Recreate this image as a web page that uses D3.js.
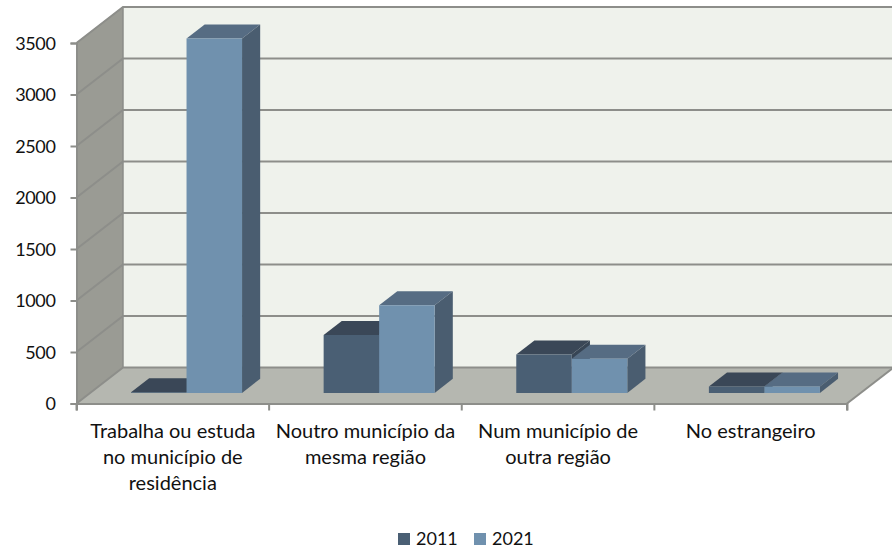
<!DOCTYPE html>
<html>
<head>
<meta charset="utf-8">
<script src="https://cdn.jsdelivr.net/npm/d3@7"></script>
<style>
  html, body { margin: 0; padding: 0; background: #fff; }
  text { font-family: Lato, "Open Sans", sans-serif; fill: #111; }
</style>
</head>
<body>
<div class="canvas"></div>
<script>
const categories = ["cat1", "cat2", "cat3", "cat4"];
const categoryLines = [
  ["Trabalha ou estuda", "no município de", "residência"],
  ["Noutro município da", "mesma região"],
  ["Num município de", "outra região"],
  ["No estrangeiro"]
];
const series = ["2011", "2021"];
const values2011 = [5, 562, 372, 62];
const values2021 = [3440, 850, 332, 62];
const yTicks = [0, 500, 1000, 1500, 2000, 2500, 3000, 3500];

const svgWidth = 892;
const svgHeight = 549;
const plot = { l: 76.5, r: 847, t: 43, b: 403.5 };
const depth = { x: 46.5, y: 36 };
const barDepth = { start: 0.295, end: 0.685 };

const svg = d3
  .select(".canvas")
  .append("svg")
  .attr("width", svgWidth)
  .attr("height", svgHeight)
  .style("display", "block");

const x = d3.scaleBand().domain(categories).range([plot.l, plot.r]);
const xInner = d3
  .scaleBand()
  .domain(series)
  .range([0, x.bandwidth()])
  .paddingInner(0)
  .paddingOuter(0.735);
const y = d3.scaleLinear().domain([0, 3500]).range([plot.b, plot.t]);

// front plane point pushed back by d (0 = front, 1 = back wall)
const pt = (px, py, d) => [px + depth.x * d, py - depth.y * d];
const poly = pts => d3.line()(pts);

const gridColor = "#8d8e8a";

// left wall
svg.append("path")
  .attr("d", poly([pt(plot.l, y(0), 0), pt(plot.l, y(3500), 0), pt(plot.l, y(3500), 1), pt(plot.l, y(0), 1)]) + "Z")
  .attr("fill", "#9a9b94")
  .attr("stroke", gridColor)
  .attr("stroke-width", 1);

// back wall
svg.append("path")
  .attr("d", poly([pt(plot.l, y(0), 1), pt(plot.l, y(3500), 1), pt(plot.r, y(3500), 1), pt(plot.r, y(0), 1)]) + "Z")
  .attr("fill", "#eff2ec");

// floor
svg.append("path")
  .attr("d", poly([pt(plot.l, y(0), 0), pt(plot.r, y(0), 0), pt(plot.r, y(0), 1), pt(plot.l, y(0), 1)]) + "Z")
  .attr("fill", "#b5b7b0");

// gridlines, wall part and back part
const grid = svg.append("g").attr("fill", "none").attr("stroke", gridColor).attr("stroke-width", 2);
yTicks.forEach(t => {
  grid.append("path").attr("d", poly([pt(plot.l, y(t), 0), pt(plot.l, y(t), 1), pt(plot.r, y(t), 1)]));
});
grid.append("path").attr("d", poly([pt(plot.l, y(3500), 1), pt(plot.l, y(0), 1)])).attr("stroke-width", 1.5);
grid.append("path").attr("d", poly([pt(plot.r, y(0), 0), pt(plot.r, y(0), 1)]));

const colors = {
  2011: { front: "#4a5f74", top: "#3a4757", side: "#374555" },
  2021: { front: "#7091ae", top: "#566c83", side: "#4a5d70" }
};

const rows = categories.flatMap((c, i) => [
  { cat: c, key: "2011", value: values2011[i] },
  { cat: c, key: "2021", value: values2021[i] }
]);

const bars = svg.selectAll(".bar").data(rows).enter().append("g").attr("class", "bar");

const x0 = d => x(d.cat) + xInner(d.key);
const x1 = d => x0(d) + xInner.bandwidth();

bars.append("path")
  .attr("d", d => poly([
    pt(x0(d), y(d.value), barDepth.start),
    pt(x1(d), y(d.value), barDepth.start),
    pt(x1(d), y(d.value), barDepth.end),
    pt(x0(d), y(d.value), barDepth.end)
  ]) + "Z")
  .attr("fill", d => colors[d.key].top);

bars.append("path")
  .attr("d", d => poly([
    pt(x1(d), y(0), barDepth.start),
    pt(x1(d), y(d.value), barDepth.start),
    pt(x1(d), y(d.value), barDepth.end),
    pt(x1(d), y(0), barDepth.end)
  ]) + "Z")
  .attr("fill", d => colors[d.key].side);

bars.append("path")
  .attr("d", d => poly([
    pt(x0(d), y(0), barDepth.start),
    pt(x1(d), y(0), barDepth.start),
    pt(x1(d), y(d.value), barDepth.start),
    pt(x0(d), y(d.value), barDepth.start)
  ]) + "Z")
  .attr("fill", d => colors[d.key].front);

// axes
const yAxis = d3.axisLeft(y).tickValues(yTicks).tickSize(6).tickPadding(15).tickFormat(d3.format("d"));
const yAxisGroup = svg.append("g").attr("transform", `translate(${plot.l}, 0)`).call(yAxis);
yAxisGroup.selectAll("text").style("font-size", "18px").style("letter-spacing", "-0.35px").attr("dy", "0.34em");
yAxisGroup.selectAll("line, path").attr("stroke", gridColor).attr("stroke-width", 2);

const xAxis = d3.axisBottom(x).tickSize(7).tickFormat("");
const xAxisGroup = svg.append("g").attr("transform", `translate(0, ${plot.b})`).call(xAxis);
xAxisGroup.select("path").attr("stroke", gridColor).attr("stroke-width", 2);
xAxisGroup.selectAll(".tick").remove();
x.domain().concat("end").forEach(c => {
  const px = c === "end" ? plot.r : x(c);
  xAxisGroup.append("line")
    .attr("x1", px).attr("x2", px).attr("y1", 0).attr("y2", 7)
    .attr("stroke", gridColor).attr("stroke-width", 2);
});

// category labels
categories.forEach((c, i) => {
  const label = svg.append("text")
    .attr("text-anchor", "middle")
    .style("font-size", "20px");
  categoryLines[i].forEach((line, j) => {
    label.append("tspan")
      .attr("x", x(c) + x.bandwidth() / 2)
      .attr("y", 437.5 + j * 26)
      .text(line);
  });
});

// legend
const legendItems = [{ key: "2011", px: 398 }, { key: "2021", px: 474 }];
const legend = svg.selectAll(".legend").data(legendItems).enter().append("g").attr("class", "legend");
legend.append("rect")
  .attr("x", d => d.px)
  .attr("y", 533)
  .attr("width", 12)
  .attr("height", 12)
  .attr("fill", d => colors[d.key].front);
legend.append("text")
  .attr("x", d => d.px + 18)
  .attr("y", 545)
  .style("font-size", "18px")
  .text(d => d.key);
</script>
</body>
</html>
